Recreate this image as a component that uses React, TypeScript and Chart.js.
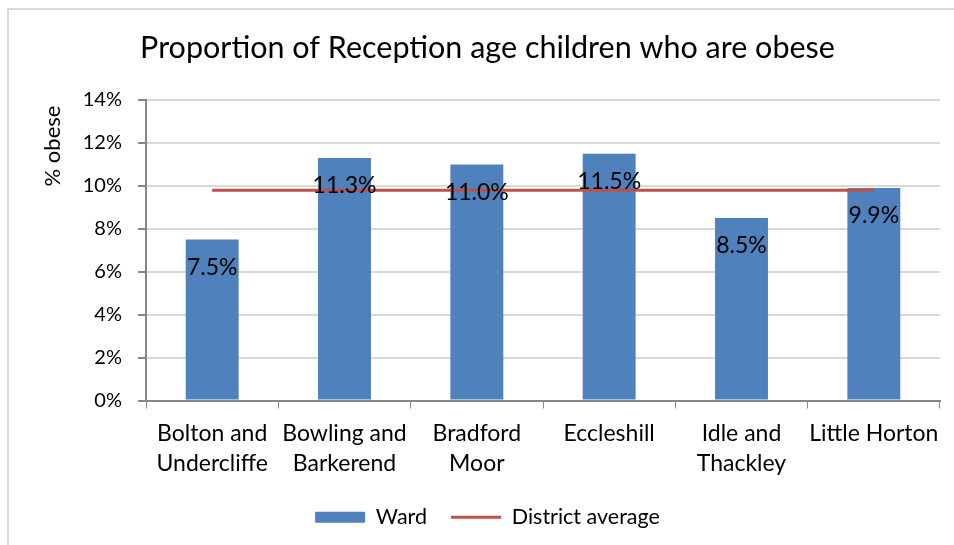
import React, { useEffect, useRef } from "react";
import { Chart, registerables } from "chart.js";

Chart.register(...registerables);

const categories: string[][] = [
  ["Bolton and", "Undercliffe"],
  ["Bowling and", "Barkerend"],
  ["Bradford", "Moor"],
  ["Eccleshill"],
  ["Idle and", "Thackley"],
  ["Little Horton"],
];
const wardValues = [7.5, 11.3, 11.0, 11.5, 8.5, 9.9];
const districtAverage = [9.8, 9.8, 9.8, 9.8, 9.8, 9.8];
const yTicks = [0, 2, 4, 6, 8, 10, 12, 14];

const FONT = "Lato, 'Open Sans', sans-serif";

const extrasPlugin = {
  id: "extras",
  afterDatasetsDraw(chart: any) {
    const ctx = chart.ctx;
    const meta = chart.getDatasetMeta(0);
    ctx.save();
    ctx.fillStyle = "#000";
    ctx.font = `23px ${FONT}`;
    ctx.textAlign = "center";
    ctx.textBaseline = "middle";
    meta.data.forEach((bar: any, i: number) => {
      ctx.fillText(wardValues[i].toFixed(1) + "%", bar.x, bar.y + 28);
    });
    ctx.restore();
  },
  afterDraw(chart: any) {
    const ctx = chart.ctx;
    ctx.save();
    ctx.translate(53, 146);
    ctx.rotate(-Math.PI / 2);
    ctx.fillStyle = "#000";
    ctx.font = `22px ${FONT}`;
    ctx.textAlign = "center";
    ctx.textBaseline = "middle";
    ctx.fillText("% obese", 0, 0);
    ctx.restore();
  },
};

export default function App() {
  const ref = useRef<HTMLCanvasElement>(null);
  useEffect(() => {
    if (!ref.current) return;
    const chart = new Chart(ref.current, {
      type: "bar",
      data: {
        labels: categories,
        datasets: [
          {
            type: "bar",
            label: "Ward",
            data: wardValues,
            backgroundColor: "#4f81bd",
            barPercentage: 0.4,
            categoryPercentage: 1,
            order: 2,
          },
          {
            type: "line",
            label: "District average",
            data: districtAverage,
            borderColor: "#c0504d",
            backgroundColor: "#c0504d",
            borderWidth: 3,
            pointRadius: 0,
            order: 1,
          } as any,
        ],
      },
      options: {
        animation: false,
        responsive: false,
        layout: { padding: { left: 35, right: 14, top: 0, bottom: 7 } },
        plugins: {
          title: {
            display: true,
            text: "Proportion of Reception age children who are obese",
            color: "#000",
            font: { family: FONT, size: 30.5, weight: "normal", lineHeight: 1.2 },
            padding: { top: 30, bottom: 33.4 },
          },
          legend: {
            position: "bottom",
            labels: {
              color: "#000",
              font: { family: FONT, size: 21.5 },
              usePointStyle: true,
              pointStyleWidth: 50,
              boxHeight: 11,
              padding: 24,
              generateLabels: (chart: any) =>
                chart.data.datasets.map((ds: any, i: number) => ({
                  text: ds.label,
                  datasetIndex: i,
                  fillStyle: ds.backgroundColor,
                  strokeStyle: ds.type === "line" ? ds.borderColor : ds.backgroundColor,
                  lineWidth: ds.type === "line" ? 3 : 0,
                  pointStyle: ds.type === "line" ? "line" : "rect",
                  fontColor: "#000",
                  hidden: false,
                })),
            },
          },
          tooltip: { enabled: false },
        },
        scales: {
          x: {
            offset: true,
            grid: {
              display: true,
              drawOnChartArea: false,
              drawTicks: true,
              tickLength: 8,
              color: "#868686",
              offset: true,
            },
            border: { color: "#868686", width: 2 },
            ticks: {
              color: "#000",
              font: { family: FONT, size: 23, lineHeight: 1.3 },
              padding: 10,
              maxRotation: 0,
              autoSkip: false,
            },
            afterFit: (s: any) => {
              s.height = 82;
            },
          },
          y: {
            min: 0,
            max: 14,
            afterBuildTicks: (s: any) => {
              s.ticks = yTicks.map((v) => ({ value: v }));
            },
            grid: {
              color: "#d9d9d9",
              lineWidth: 2,
              tickLength: 8,
              tickColor: "#868686",
            },
            border: { color: "#868686", width: 2 },
            ticks: {
              color: "#000",
              font: { family: FONT, size: 20 },
              padding: 16,
              callback: (v: any) => v + "%",
            },
            afterFit: (s: any) => {
              s.width = 111;
            },
          },
        },
      },
      plugins: [extrasPlugin],
    });
    return () => chart.destroy();
  }, []);

  return (
    <div style={{ position: "fixed", left: 0, top: 0, width: 954, height: 545, background: "#fff" }}>
      <div
        style={{
          position: "absolute",
          left: 7,
          top: 8,
          width: 947,
          height: 537,
          borderTop: "2px solid #d9d9d9",
          borderLeft: "2px solid #d9d9d9",
          boxSizing: "border-box",
        }}
      />
      <canvas ref={ref} width={954} height={545} style={{ position: "absolute", left: 0, top: 0 }} />
    </div>
  );
}
